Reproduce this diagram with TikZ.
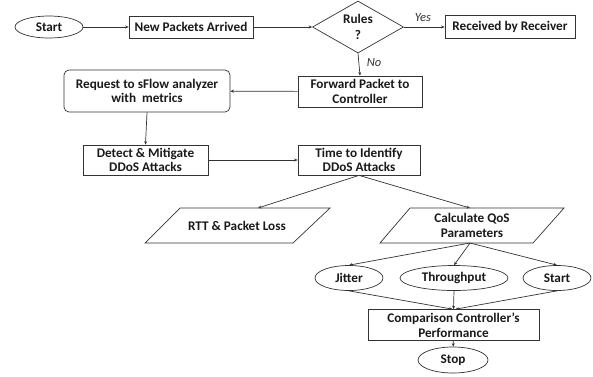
\documentclass[tikz,border=0pt]{standalone}
\usepackage{fontspec}
\setmainfont{Carlito}
\usetikzlibrary{shapes.geometric,arrows.meta}
\begin{document}
\begin{tikzpicture}[x=1pt,y=-1pt,
  every node/.style={font=\bfseries\fontsize{13.2}{14.5}\selectfont, text=black!90, align=center},
  box/.style={draw=black!80, line width=0.7pt, inner sep=0pt},
  oval/.style={draw=black!80, line width=0.7pt, ellipse, inner sep=0pt},
  lbl/.style={font=\itshape\fontsize{12.5}{14}\selectfont, text=black!80},
  arr/.style={draw=black!80, line width=0.7pt, -{Stealth[length=3.5pt,width=3pt]}},
  ln/.style={draw=black!80, line width=0.7pt}]
\useasboundingbox (0,0) rectangle (593,376);
% top row
\node[oval, minimum width=68pt, minimum height=22pt] (start) at (49,27) {Start};
\node[box, minimum width=124pt, minimum height=22pt] (npa) at (191,27) {New Packets Arrived};
\node[diamond, draw=black!80, line width=0.7pt, inner sep=0pt, minimum width=91pt, minimum height=52pt, aspect=1.75] (rules) at (358,27) {Rules\\[2pt]?};
\node[box, minimum width=130pt, minimum height=23pt] (recv) at (510,27) {Received by Receiver};
\node[lbl] (yes) at (423,18) {Yes};
\node[lbl] (no) at (374,63) {No};
% second row
\node[box, minimum width=124pt, minimum height=31pt] (fwd) at (360,91.5) {Forward Packet to\\Controller};
\node[box, rounded corners=5pt, minimum width=166pt, minimum height=42pt] (req) at (147,91) {Request to sFlow analyzer\\with\ \ metrics};
% third row
\node[box, minimum width=125pt, minimum height=30pt] (det) at (145.5,160) {Detect \& Mitigate\\DDoS Attacks};
\node[box, minimum width=122pt, minimum height=30pt] (tim) at (359,160) {Time to Identify\\DDoS Attacks};
% parallelograms
\draw[ln] (180,208) -- (330,208) -- (293,243) -- (145,243) -- cycle;
\coordinate (rtttop) at (258,208);
\node (rtt) at (237,225.5) {RTT \& Packet Loss};
\draw[ln] (410,208) -- (564,208) -- (533,243) -- (380,243) -- cycle;
\coordinate (calctop) at (470,208);
\coordinate (calcbot) at (470,243);
\node (calc) at (472,225.5) {Calculate QoS\\Parameters};
% ovals
\node[oval, minimum width=68pt, minimum height=25pt] (jit) at (349,278) {Jitter};
\node[oval, minimum width=108pt, minimum height=25pt] (thr) at (454,278) {Throughput};
\node[oval, minimum width=68pt, minimum height=25pt] (st2) at (557,278) {Start};
\node[box, minimum width=171pt, minimum height=31pt] (cmp) at (453.5,325) {Comparison Controller's\\Performance};
\node[oval, minimum width=70pt, minimum height=26pt] (stop) at (453,360) {Stop};
% connectors
\draw[arr] (start) -- (npa);
\draw[arr] (npa) -- (rules.west);
\draw[arr] (rules.east) -- (recv);
\draw[arr] (rules.south) -- (fwd.north);
\draw[arr] (fwd) -- (req);
\draw[arr] (req.south) -- (det.north);
\draw[arr] (det) -- (tim);
\draw[arr] (tim.south) -- (rtttop);
\draw[arr] (tim.south) -- (calctop);
\draw[arr] (calcbot) -- (jit.north);
\draw[arr] (calcbot) -- (thr.north);
\draw[arr] (calcbot) -- (st2.north);
\draw[arr] (jit.south) -- ([xshift=-1pt]cmp.north);
\draw[arr] (thr.south) -- (cmp.north);
\draw[arr] (st2.south) -- ([xshift=2pt]cmp.north);
\draw[arr] (cmp) -- (stop);
\end{tikzpicture}
\end{document}
